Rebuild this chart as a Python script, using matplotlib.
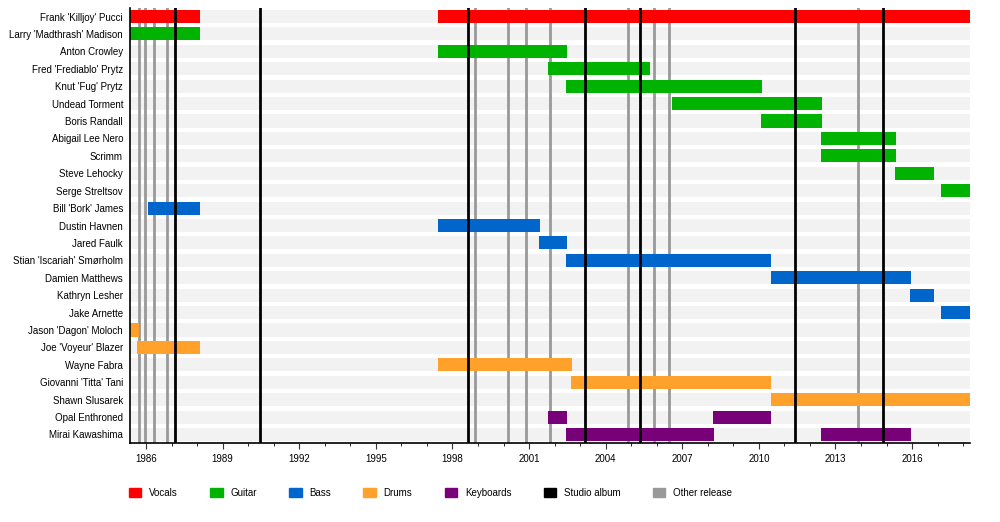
import matplotlib.pyplot as plt
from matplotlib.patches import Patch
from matplotlib.ticker import MultipleLocator

plt.rcParams['font.family'] = ['Liberation Sans', 'DejaVu Sans']

members = ["Frank 'Killjoy' Pucci", "Larry 'Madthrash' Madison", "Anton Crowley",
           "Fred 'Frediablo' Prytz", "Knut 'Fug' Prytz", "Undead Torment", "Boris Randall",
           "Abigail Lee Nero", "Scrimm", "Steve Lehocky", "Serge Streltsov",
           "Bill 'Bork' James", "Dustin Havnen", "Jared Faulk", "Stian 'Iscariah' Smørholm",
           "Damien Matthews", "Kathryn Lesher", "Jake Arnette", "Jason 'Dagon' Moloch",
           "Joe 'Voyeur' Blazer", "Wayne Fabra", "Giovanni 'Titta' Tani", "Shawn Slusarek",
           "Opal Enthroned", "Mirai Kawashima"]

# (member, start, end, role)
periods = [
    (0, 1985.37, 1988.1, "Vocals"), (0, 1997.44, 2018.27, "Vocals"),
    (1, 1985.37, 1988.1, "Guitar"),
    (2, 1997.44, 2002.49, "Guitar"),
    (3, 2001.75, 2005.74, "Guitar"),
    (4, 2002.45, 2010.13, "Guitar"),
    (5, 2006.6, 2012.48, "Guitar"),
    (6, 2010.09, 2012.48, "Guitar"),
    (7, 2012.44, 2015.38, "Guitar"),
    (8, 2012.44, 2015.38, "Guitar"),
    (9, 2015.34, 2016.87, "Guitar"),
    (10, 2017.14, 2018.27, "Guitar"),
    (11, 1986.08, 1988.1, "Bass"),
    (12, 1997.44, 2001.43, "Bass"),
    (13, 2001.39, 2002.49, "Bass"),
    (14, 2002.45, 2010.48, "Bass"),
    (15, 2010.48, 2015.96, "Bass"),
    (16, 2015.92, 2016.87, "Bass"),
    (17, 2017.14, 2018.27, "Bass"),
    (18, 1985.37, 1985.73, "Drums"),
    (19, 1985.65, 1988.1, "Drums"),
    (20, 1997.44, 2002.69, "Drums"),
    (21, 2002.65, 2010.48, "Drums"),
    (22, 2010.48, 2018.27, "Drums"),
    (23, 2001.75, 2002.49, "Keyboards"), (23, 2008.2, 2010.48, "Keyboards"),
    (24, 2002.45, 2008.25, "Keyboards"), (24, 2012.44, 2015.96, "Keyboards"),
]

studio_albums = [1987.14, 1990.47, 1998.61, 2003.2, 2005.35, 2011.42, 2014.87]
other_releases = [1985.73, 1985.96, 1986.31, 1986.82, 1998.89, 2000.18, 2000.88,
                  2001.82, 2004.88, 2005.9, 2006.49, 2013.89]

colors = {"Vocals": "#ff0000", "Guitar": "#00b300", "Bass": "#0066cc",
          "Drums": "#ffa12a", "Keyboards": "#780078"}

fig = plt.figure(figsize=(10, 5.22), dpi=100)
ax = fig.add_axes([0.13, 0.151, 0.84, 0.834])
xmin, xmax = 1985.37, 2018.27
n = len(members)

for i in range(n):
    ax.barh(i, xmax - xmin, left=xmin, height=0.75, color="#f2f2f2", zorder=0)

for m, s, e, role in periods:
    ax.barh(m, e - s, left=s, height=0.75, color=colors[role], zorder=2)

for x in other_releases:
    ax.axvline(x, color="#999999", lw=2, zorder=1)
for x in studio_albums:
    ax.axvline(x, color="black", lw=2, zorder=3)

ax.set_xlim(xmin, xmax)
ax.set_ylim(n - 0.5, -0.5)
ax.set_yticks(range(n))
ax.set_yticklabels(members, fontsize=7)
ax.tick_params(axis="y", length=0, pad=5)
ax.xaxis.set_major_locator(MultipleLocator(3))
ax.xaxis.set_minor_locator(MultipleLocator(1))
ax.set_xticks(range(1986, 2018, 3))
ax.tick_params(axis="x", labelsize=7, length=4, color="#333333")
ax.tick_params(axis="x", which="minor", length=2)
for sp in ["top", "right"]:
    ax.spines[sp].set_visible(False)
ax.spines["left"].set_linewidth(1.2)
ax.spines["bottom"].set_linewidth(1.2)

handles = [Patch(color=c, label=r) for r, c in colors.items()]
handles += [Patch(color="black", label="Studio album"), Patch(color="#999999", label="Other release")]
fig.legend(handles=handles, loc="lower left", bbox_to_anchor=(0.12, 0.03), ncol=7,
           frameon=False, fontsize=7, handlelength=1.3, handleheight=1.1, columnspacing=3.3)

fig.savefig("out.png", dpi=100)
